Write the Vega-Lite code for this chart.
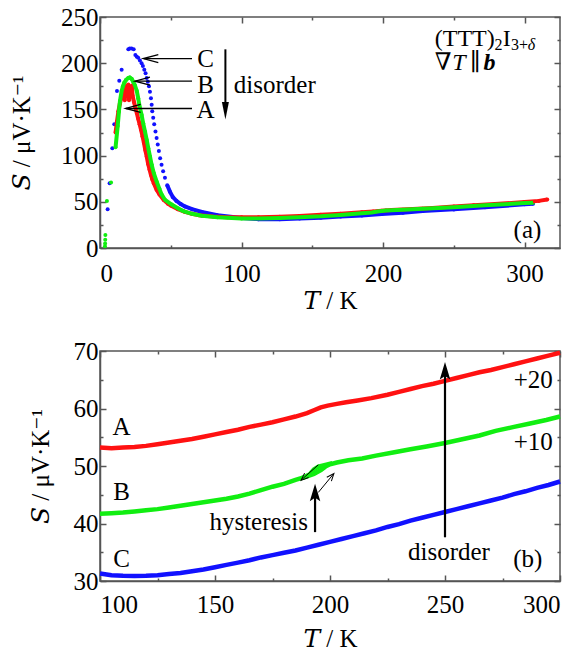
{
  "$schema": "https://vega.github.io/schema/vega-lite/v6.json",
  "padding": {"left": 8, "top": 4, "right": 0, "bottom": 0},
  "spacing": 24,
  "config": {
    "font": "Liberation Serif",
    "view": {"stroke": "#555", "strokeWidth": 1.5},
    "axis": {
      "labelFont": "Liberation Serif", "labelFontSize": 25, "labelColor": "black",
      "titleFont": "Liberation Serif, DejaVu Serif", "titleFontSize": 25, "titleFontWeight": "normal", "titleColor": "black",
      "domainColor": "#555", "domainWidth": 1.5, "tickColor": "#555", "tickWidth": 1.5, "grid": false
    },
    "text": {"font": "Liberation Serif", "fontSize": 25, "color": "black"}
  },
  "resolve": {"scale": {"x": "independent", "y": "independent"}},
  "datasets": {
    "seebeck": [
      {"T":5.4,"S":42,"sample":"C"},{"T":6.8,"S":70,"sample":"C"},{"T":8.7,"S":108,"sample":"C"},{"T":10.1,"S":134,"sample":"C"},
      {"T":12,"S":170,"sample":"C"},{"T":13.6,"S":181,"sample":"C"},{"T":15.3,"S":193,"sample":"C"},{"T":20,"S":215,"sample":"C"},
      {"T":21,"S":216,"sample":"C"},{"T":22.3,"S":216,"sample":"C"},{"T":23.8,"S":215,"sample":"C"},{"T":25,"S":209,"sample":"C"},
      {"T":26,"S":207,"sample":"C"},{"T":27,"S":206,"sample":"C"},{"T":28.2,"S":203,"sample":"C"},{"T":29.4,"S":200,"sample":"C"},
      {"T":30.3,"S":197,"sample":"C"},{"T":31.3,"S":193,"sample":"C"},{"T":32.2,"S":189,"sample":"C"},{"T":33,"S":184,"sample":"C"},
      {"T":33.8,"S":180,"sample":"C"},{"T":34.6,"S":175,"sample":"C"},{"T":35.3,"S":169,"sample":"C"},{"T":36,"S":162,"sample":"C"},
      {"T":36.5,"S":155,"sample":"C"},{"T":36.9,"S":148,"sample":"C"},{"T":37.6,"S":141,"sample":"C"},{"T":38.3,"S":134,"sample":"C"},
      {"T":39.2,"S":126,"sample":"C"},{"T":40,"S":119,"sample":"C"},{"T":40.8,"S":112,"sample":"C"},{"T":41.6,"S":105,"sample":"C"},
      {"T":42.5,"S":97,"sample":"C"},{"T":43.5,"S":90,"sample":"C"},{"T":44.6,"S":83,"sample":"C"},{"T":45.9,"S":76,"sample":"C"},
      {"T":47.5,"S":68,"sample":"C"},{"T":49.4,"S":61,"sample":"C"},{"T":51.5,"S":55,"sample":"C"},{"T":54,"S":51,"sample":"C"},
      {"T":57,"S":47.5,"sample":"C"},{"T":60,"S":45,"sample":"C"},{"T":65,"S":42,"sample":"C"},{"T":72,"S":39,"sample":"C"},
      {"T":83,"S":35.5,"sample":"C"},{"T":100,"S":32.5,"sample":"C"},{"T":112,"S":31.2,"sample":"C"},{"T":127,"S":31,"sample":"C"},
      {"T":141,"S":31.8,"sample":"C"},{"T":156,"S":32.8,"sample":"C"},{"T":170,"S":34.2,"sample":"C"},{"T":185,"S":35.2,"sample":"C"},
      {"T":199,"S":36.7,"sample":"C"},{"T":214,"S":38.2,"sample":"C"},{"T":228,"S":40,"sample":"C"},{"T":250,"S":41.8,"sample":"C"},
      {"T":272,"S":44,"sample":"C"},{"T":300,"S":47.3,"sample":"C"},{"T":306,"S":48,"sample":"C"},

      {"T":11,"S":125,"sample":"A"},{"T":12,"S":137,"sample":"A"},{"T":13,"S":148,"sample":"A"},{"T":14,"S":156,"sample":"A"},
      {"T":15,"S":162,"sample":"A"},{"T":16,"S":166,"sample":"A"},{"T":17,"S":170,"sample":"A"},{"T":17.5,"S":160,"sample":"A"},
      {"T":18,"S":173,"sample":"A"},{"T":18.5,"S":165,"sample":"A"},{"T":19,"S":176,"sample":"A"},{"T":19.5,"S":168,"sample":"A"},
      {"T":20,"S":177,"sample":"A"},{"T":20.5,"S":160,"sample":"A"},{"T":21,"S":174,"sample":"A"},{"T":21.5,"S":165,"sample":"A"},
      {"T":22,"S":170,"sample":"A"},{"T":22.5,"S":176,"sample":"A"},{"T":23,"S":165,"sample":"A"},{"T":24,"S":158,"sample":"A"},
      {"T":25,"S":152,"sample":"A"},{"T":26,"S":146,"sample":"A"},{"T":27,"S":140,"sample":"A"},{"T":28,"S":134,"sample":"A"},
      {"T":29,"S":128,"sample":"A"},{"T":30,"S":121,"sample":"A"},{"T":31,"S":114,"sample":"A"},{"T":32,"S":106,"sample":"A"},
      {"T":33,"S":99,"sample":"A"},{"T":34,"S":91,"sample":"A"},{"T":35,"S":85,"sample":"A"},{"T":36,"S":79,"sample":"A"},
      {"T":37,"S":74,"sample":"A"},{"T":38,"S":70,"sample":"A"},{"T":40,"S":63,"sample":"A"},{"T":42,"S":58,"sample":"A"},
      {"T":45,"S":52,"sample":"A"},{"T":48,"S":48,"sample":"A"},{"T":50,"S":46,"sample":"A"},{"T":55,"S":42,"sample":"A"},
      {"T":60,"S":39,"sample":"A"},{"T":65,"S":37,"sample":"A"},{"T":70,"S":35.5,"sample":"A"},{"T":80,"S":34,"sample":"A"},
      {"T":90,"S":33.4,"sample":"A"},{"T":100,"S":33.2,"sample":"A"},{"T":112,"S":33.3,"sample":"A"},{"T":127,"S":33.9,"sample":"A"},
      {"T":141,"S":34.7,"sample":"A"},{"T":156,"S":35.9,"sample":"A"},{"T":170,"S":37.2,"sample":"A"},{"T":185,"S":38.6,"sample":"A"},
      {"T":193,"S":39.6,"sample":"A"},{"T":199,"S":40.4,"sample":"A"},{"T":206,"S":41.1,"sample":"A"},{"T":221,"S":42.1,"sample":"A"},
      {"T":235,"S":43.4,"sample":"A"},{"T":250,"S":44.8,"sample":"A"},{"T":264,"S":46.2,"sample":"A"},{"T":279,"S":47.6,"sample":"A"},
      {"T":300,"S":49.7,"sample":"A"},{"T":310,"S":51,"sample":"A"},{"T":316,"S":52.4,"sample":"A"},

      {"T":3.5,"S":2,"sample":"B"},{"T":3.6,"S":5,"sample":"B"},{"T":3.7,"S":9,"sample":"B"},{"T":3.8,"S":14,"sample":"B"},
      {"T":4.9,"S":51,"sample":"B"},{"T":7.8,"S":71,"sample":"B"},{"T":11,"S":109,"sample":"B"},{"T":12.5,"S":132,"sample":"B"},
      {"T":13.4,"S":148,"sample":"B"},{"T":14.1,"S":159,"sample":"B"},{"T":15.3,"S":170,"sample":"B"},{"T":16.2,"S":175,"sample":"B"},
      {"T":17.2,"S":179,"sample":"B"},{"T":18.5,"S":182,"sample":"B"},{"T":20,"S":184,"sample":"B"},{"T":21,"S":184.5,"sample":"B"},
      {"T":22.4,"S":183,"sample":"B"},{"T":23.5,"S":180,"sample":"B"},{"T":24.7,"S":176,"sample":"B"},{"T":26,"S":170,"sample":"B"},
      {"T":27,"S":162,"sample":"B"},{"T":28,"S":153,"sample":"B"},{"T":29.4,"S":144,"sample":"B"},{"T":30.5,"S":135,"sample":"B"},
      {"T":31.8,"S":126,"sample":"B"},{"T":33,"S":117,"sample":"B"},{"T":34.1,"S":108,"sample":"B"},{"T":35.3,"S":99,"sample":"B"},
      {"T":36.5,"S":90,"sample":"B"},{"T":38,"S":81,"sample":"B"},{"T":40,"S":72,"sample":"B"},{"T":42,"S":64,"sample":"B"},
      {"T":43.5,"S":58,"sample":"B"},{"T":46,"S":52,"sample":"B"},{"T":50.6,"S":47,"sample":"B"},{"T":55,"S":43,"sample":"B"},
      {"T":58.8,"S":40,"sample":"B"},{"T":65,"S":37,"sample":"B"},{"T":72,"S":35,"sample":"B"},{"T":83,"S":33.3,"sample":"B"},
      {"T":100,"S":32,"sample":"B"},{"T":112,"S":32,"sample":"B"},{"T":127,"S":32.6,"sample":"B"},{"T":141,"S":33.4,"sample":"B"},
      {"T":156,"S":34.3,"sample":"B"},{"T":170,"S":35.8,"sample":"B"},{"T":185,"S":37.6,"sample":"B"},{"T":192,"S":38.4,"sample":"B"},
      {"T":196,"S":39.4,"sample":"B"},{"T":202,"S":40.6,"sample":"B"},{"T":214,"S":41.3,"sample":"B"},{"T":228,"S":42.4,"sample":"B"},
      {"T":250,"S":44,"sample":"B"},{"T":272,"S":46.2,"sample":"B"},{"T":300,"S":48.6,"sample":"B"},{"T":306,"S":49,"sample":"B"}
    ],
    "shifted": [
      {"T":100,"S":53.2,"sample":"A","branch":"A"},{"T":105,"S":53.1,"sample":"A","branch":"A"},{"T":110,"S":53.2,"sample":"A","branch":"A"},
      {"T":115,"S":53.3,"sample":"A","branch":"A"},{"T":120,"S":53.5,"sample":"A","branch":"A"},{"T":125,"S":53.8,"sample":"A","branch":"A"},
      {"T":130,"S":54.1,"sample":"A","branch":"A"},{"T":135,"S":54.4,"sample":"A","branch":"A"},{"T":140,"S":54.7,"sample":"A","branch":"A"},
      {"T":145,"S":55.1,"sample":"A","branch":"A"},{"T":150,"S":55.5,"sample":"A","branch":"A"},{"T":155,"S":55.9,"sample":"A","branch":"A"},
      {"T":160,"S":56.3,"sample":"A","branch":"A"},{"T":165,"S":56.8,"sample":"A","branch":"A"},{"T":170,"S":57.2,"sample":"A","branch":"A"},
      {"T":175,"S":57.6,"sample":"A","branch":"A"},{"T":180,"S":58.1,"sample":"A","branch":"A"},{"T":185,"S":58.6,"sample":"A","branch":"A"},
      {"T":190,"S":59.2,"sample":"A","branch":"A"},{"T":193,"S":59.7,"sample":"A","branch":"A"},{"T":196,"S":60.2,"sample":"A","branch":"A"},
      {"T":199,"S":60.5,"sample":"A","branch":"A"},{"T":203,"S":60.8,"sample":"A","branch":"A"},{"T":207,"S":61.1,"sample":"A","branch":"A"},
      {"T":212,"S":61.4,"sample":"A","branch":"A"},{"T":218,"S":61.8,"sample":"A","branch":"A"},{"T":225,"S":62.4,"sample":"A","branch":"A"},
      {"T":230,"S":62.9,"sample":"A","branch":"A"},{"T":235,"S":63.4,"sample":"A","branch":"A"},{"T":240,"S":63.9,"sample":"A","branch":"A"},
      {"T":245,"S":64.3,"sample":"A","branch":"A"},{"T":250,"S":64.8,"sample":"A","branch":"A"},{"T":255,"S":65.3,"sample":"A","branch":"A"},
      {"T":260,"S":65.8,"sample":"A","branch":"A"},{"T":265,"S":66.3,"sample":"A","branch":"A"},{"T":270,"S":66.7,"sample":"A","branch":"A"},
      {"T":275,"S":67.2,"sample":"A","branch":"A"},{"T":280,"S":67.7,"sample":"A","branch":"A"},{"T":285,"S":68.2,"sample":"A","branch":"A"},
      {"T":290,"S":68.7,"sample":"A","branch":"A"},{"T":295,"S":69.2,"sample":"A","branch":"A"},{"T":300,"S":69.7,"sample":"A","branch":"A"},

      {"T":100,"S":41.7,"sample":"B","branch":"B"},{"T":105,"S":41.8,"sample":"B","branch":"B"},{"T":110,"S":41.9,"sample":"B","branch":"B"},
      {"T":115,"S":42.1,"sample":"B","branch":"B"},{"T":120,"S":42.3,"sample":"B","branch":"B"},{"T":125,"S":42.5,"sample":"B","branch":"B"},
      {"T":130,"S":42.8,"sample":"B","branch":"B"},{"T":135,"S":43.1,"sample":"B","branch":"B"},{"T":140,"S":43.4,"sample":"B","branch":"B"},
      {"T":145,"S":43.7,"sample":"B","branch":"B"},{"T":150,"S":44.0,"sample":"B","branch":"B"},{"T":155,"S":44.3,"sample":"B","branch":"B"},
      {"T":160,"S":44.7,"sample":"B","branch":"B"},{"T":165,"S":45.2,"sample":"B","branch":"B"},{"T":170,"S":45.8,"sample":"B","branch":"B"},
      {"T":175,"S":46.4,"sample":"B","branch":"B"},{"T":180,"S":46.9,"sample":"B","branch":"B"},{"T":185,"S":47.6,"sample":"B","branch":"B"},
      {"T":190,"S":48.2,"sample":"B","branch":"B"},{"T":193,"S":48.6,"sample":"B","branch":"B"},{"T":196,"S":49.3,"sample":"B","branch":"B"},
      {"T":198,"S":49.9,"sample":"B","branch":"B"},{"T":200,"S":50.3,"sample":"B","branch":"B"},{"T":203,"S":50.6,"sample":"B","branch":"B"},
      {"T":208,"S":51.0,"sample":"B","branch":"B"},{"T":214,"S":51.3,"sample":"B","branch":"B"},{"T":220,"S":51.8,"sample":"B","branch":"B"},
      {"T":228,"S":52.4,"sample":"B","branch":"B"},{"T":235,"S":52.9,"sample":"B","branch":"B"},{"T":242,"S":53.4,"sample":"B","branch":"B"},
      {"T":250,"S":54.0,"sample":"B","branch":"B"},{"T":257,"S":54.6,"sample":"B","branch":"B"},{"T":265,"S":55.3,"sample":"B","branch":"B"},
      {"T":272,"S":56.1,"sample":"B","branch":"B"},{"T":280,"S":56.8,"sample":"B","branch":"B"},{"T":287,"S":57.4,"sample":"B","branch":"B"},
      {"T":294,"S":58.0,"sample":"B","branch":"B"},{"T":300,"S":58.6,"sample":"B","branch":"B"},
      {"T":188,"S":47.9,"sample":"B","branch":"B cooling"},{"T":191,"S":48.5,"sample":"B","branch":"B cooling"},
      {"T":193,"S":49.4,"sample":"B","branch":"B cooling"},{"T":195,"S":49.9,"sample":"B","branch":"B cooling"},
      {"T":198,"S":50.2,"sample":"B","branch":"B cooling"},{"T":201,"S":50.5,"sample":"B","branch":"B cooling"},

      {"T":100,"S":31.3,"sample":"C","branch":"C"},{"T":105,"S":31.0,"sample":"C","branch":"C"},{"T":110,"S":30.9,"sample":"C","branch":"C"},
      {"T":115,"S":30.85,"sample":"C","branch":"C"},{"T":120,"S":30.9,"sample":"C","branch":"C"},{"T":125,"S":31.0,"sample":"C","branch":"C"},
      {"T":130,"S":31.2,"sample":"C","branch":"C"},{"T":135,"S":31.4,"sample":"C","branch":"C"},{"T":140,"S":31.7,"sample":"C","branch":"C"},
      {"T":145,"S":32.0,"sample":"C","branch":"C"},{"T":150,"S":32.4,"sample":"C","branch":"C"},{"T":155,"S":32.8,"sample":"C","branch":"C"},
      {"T":160,"S":33.2,"sample":"C","branch":"C"},{"T":165,"S":33.6,"sample":"C","branch":"C"},{"T":170,"S":34.1,"sample":"C","branch":"C"},
      {"T":175,"S":34.5,"sample":"C","branch":"C"},{"T":180,"S":34.9,"sample":"C","branch":"C"},{"T":185,"S":35.3,"sample":"C","branch":"C"},
      {"T":190,"S":35.8,"sample":"C","branch":"C"},{"T":195,"S":36.3,"sample":"C","branch":"C"},{"T":200,"S":36.8,"sample":"C","branch":"C"},
      {"T":205,"S":37.3,"sample":"C","branch":"C"},{"T":210,"S":37.8,"sample":"C","branch":"C"},{"T":215,"S":38.3,"sample":"C","branch":"C"},
      {"T":220,"S":38.8,"sample":"C","branch":"C"},{"T":225,"S":39.4,"sample":"C","branch":"C"},{"T":230,"S":39.9,"sample":"C","branch":"C"},
      {"T":235,"S":40.5,"sample":"C","branch":"C"},{"T":240,"S":41.0,"sample":"C","branch":"C"},{"T":245,"S":41.5,"sample":"C","branch":"C"},
      {"T":250,"S":42.0,"sample":"C","branch":"C"},{"T":255,"S":42.5,"sample":"C","branch":"C"},{"T":260,"S":43.0,"sample":"C","branch":"C"},
      {"T":265,"S":43.5,"sample":"C","branch":"C"},{"T":270,"S":44.0,"sample":"C","branch":"C"},{"T":275,"S":44.5,"sample":"C","branch":"C"},
      {"T":280,"S":45.1,"sample":"C","branch":"C"},{"T":285,"S":45.6,"sample":"C","branch":"C"},{"T":290,"S":46.2,"sample":"C","branch":"C"},
      {"T":295,"S":46.7,"sample":"C","branch":"C"},{"T":300,"S":47.3,"sample":"C","branch":"C"}
    ]
  },
  "vconcat": [
    {
      "width": 460,
      "height": 231,
      "resolve": {"axis": {"x": "independent", "y": "independent"}},
      "layer": [
        {
          "data": {"name": "seebeck"},
          "mark": {"type": "circle", "size": 16, "opacity": 1},
          "encoding": {
            "x": {"field": "T", "type": "quantitative", "scale": {"domain": [0, 325], "nice": false, "zero": false},
                  "axis": {"orient": "bottom", "values": [0, 100, 200, 300], "tickSize": -6, "labelPadding": 19, "labelFont": "Liberation Serif", "title": "𝑇 / K", "titlePadding": 2}},
            "y": {"field": "S", "type": "quantitative", "scale": {"domain": [0, 250], "nice": false},
                  "axis": {"orient": "left", "values": [0, 50, 100, 150, 200, 250], "tickSize": -6, "labelPadding": 8, "labelFont": "Liberation Serif", "title": "𝑆 / μV·K⁻¹", "titlePadding": 26}},
            "color": {"field": "sample", "type": "nominal", "scale": {"domain": ["A", "B", "C"], "range": ["#ff1111", "#11ee11", "#1111ff"]}, "legend": null}
          }
        },
        {
          "data": {"name": "seebeck"},
          "transform": [{"filter": "(datum.sample != 'C' && datum.T >= 11) || datum.T >= 47"}],
          "mark": {"type": "line", "strokeWidth": 4},
          "encoding": {
            "x": {"field": "T", "type": "quantitative", "axis": null},
            "y": {"field": "S", "type": "quantitative", "axis": null},
            "color": {"field": "sample", "type": "nominal", "legend": null}
          }
        },
        {
          "data": {"values": [
            {"T": 74.6, "S": 205, "label": "C"},
            {"T": 74.6, "S": 176.5, "label": "B"},
            {"T": 74.6, "S": 149, "label": "A"},
            {"T": 123.5, "S": 176.5, "label": "disorder"},
            {"T": 302, "S": 20, "label": "(a)"}
          ]},
          "mark": {"type": "text", "align": "center", "baseline": "middle", "font": "Liberation Serif"},
          "encoding": {
            "x": {"field": "T", "type": "quantitative",
                  "axis": {"orient": "top", "values": [0, 100, 200, 300], "tickSize": -6, "labels": false, "title": null, "domain": false, "minExtent": 0}},
            "y": {"field": "S", "type": "quantitative",
                  "axis": {"orient": "right", "values": [0, 50, 100, 150, 200, 250], "tickSize": -6, "labels": false, "title": null, "domain": false, "minExtent": 0}},
            "text": {"field": "label"}
          }
        },
        {
          "data": {"values": [
            {"T": 65, "S": 205, "T2": 31, "S2": 205},
            {"T": 65, "S": 180.5, "T2": 25, "S2": 180.5},
            {"T": 65, "S": 151, "T2": 18.5, "S2": 151}
          ]},
          "mark": {"type": "rule", "color": "black", "strokeWidth": 1.3},
          "encoding": {
            "x": {"field": "T", "type": "quantitative",
                  "axis": {"orient": "bottom", "values": [50, 150, 250], "tickSize": -3, "labels": false, "title": null, "domain": false, "minExtent": 0}},
            "x2": {"field": "T2"},
            "y": {"field": "S", "type": "quantitative",
                  "axis": {"orient": "left", "values": [25, 75, 125, 175, 225], "tickSize": -3, "labels": false, "title": null, "domain": false, "minExtent": 0}},
            "y2": {"field": "S2"}
          }
        },
        {
          "data": {"values": [
            {"T": 30.6, "S": 205},
            {"T": 24.7, "S": 180.5},
            {"T": 18.1, "S": 151}
          ]},
          "mark": {"type": "point", "shape": "M3,-0.8L0,0L3,0.8", "size": 100, "filled": false, "stroke": "black", "strokeWidth": 1.3, "opacity": 1},
          "encoding": {
            "x": {"field": "T", "type": "quantitative",
                  "axis": {"orient": "top", "values": [50, 150, 250], "tickSize": -3, "labels": false, "title": null, "domain": false, "minExtent": 0}},
            "y": {"field": "S", "type": "quantitative",
                  "axis": {"orient": "right", "values": [25, 75, 125, 175, 225], "tickSize": -3, "labels": false, "title": null, "domain": false, "minExtent": 0}}
          }
        },
        {
          "data": {"values": [{"T": 88.6, "S": 215, "S2": 150}]},
          "mark": {"type": "rule", "color": "black", "strokeWidth": 2},
          "encoding": {
            "x": {"field": "T", "type": "quantitative", "axis": null},
            "y": {"field": "S", "type": "quantitative", "axis": null},
            "y2": {"field": "S2"}
          }
        },
        {
          "data": {"values": [{"T": 88.6, "S": 139}]},
          "mark": {"type": "point", "shape": "M0,0L-1,-5L1,-5Z", "size": 49, "filled": true, "color": "black", "opacity": 1},
          "encoding": {
            "x": {"field": "T", "type": "quantitative", "axis": null},
            "y": {"field": "S", "type": "quantitative", "axis": null}
          }
        },
        {
          "data": {"values": [
            {"T": 236.5, "S": 219, "label": "(TTT)"},
            {"T": 284.5, "S": 219, "label": "I"},
            {"T": 236.5, "S": 193, "label": "∇"},
            {"T": 261.5, "S": 193, "label": "∥"}
          ]},
          "mark": {"type": "text", "align": "left", "baseline": "alphabetic", "fontSize": 24, "font": "Liberation Serif, DejaVu Serif"},
          "encoding": {
            "x": {"field": "T", "type": "quantitative", "axis": null},
            "y": {"field": "S", "type": "quantitative", "axis": null},
            "text": {"field": "label"}
          }
        },
        {
          "data": {"values": [
            {"T": 278.8, "S": 214.5, "label": "2"},
            {"T": 290.3, "S": 214.5, "label": "3+"}
          ]},
          "mark": {"type": "text", "align": "left", "baseline": "alphabetic", "fontSize": 16, "font": "Liberation Serif"},
          "encoding": {
            "x": {"field": "T", "type": "quantitative", "axis": null},
            "y": {"field": "S", "type": "quantitative", "axis": null},
            "text": {"field": "label"}
          }
        },
        {
          "data": {"values": [{"T": 302.3, "S": 214.5, "label": "δ"}]},
          "mark": {"type": "text", "align": "left", "baseline": "alphabetic", "fontSize": 16, "fontStyle": "italic", "font": "Liberation Serif"},
          "encoding": {
            "x": {"field": "T", "type": "quantitative", "axis": null},
            "y": {"field": "S", "type": "quantitative", "axis": null},
            "text": {"field": "label"}
          }
        },
        {
          "data": {"values": [{"T": 248.8, "S": 193, "label": "T"}]},
          "mark": {"type": "text", "align": "left", "baseline": "alphabetic", "fontSize": 24, "fontStyle": "italic", "font": "Liberation Serif"},
          "encoding": {
            "x": {"field": "T", "type": "quantitative", "axis": null},
            "y": {"field": "S", "type": "quantitative", "axis": null},
            "text": {"field": "label"}
          }
        },
        {
          "data": {"values": [{"T": 271, "S": 193, "label": "b"}]},
          "mark": {"type": "text", "align": "left", "baseline": "alphabetic", "fontSize": 24, "fontStyle": "italic", "fontWeight": "bold", "font": "Liberation Serif"},
          "encoding": {
            "x": {"field": "T", "type": "quantitative", "axis": null},
            "y": {"field": "S", "type": "quantitative", "axis": null},
            "text": {"field": "label"}
          }
        }
      ]
    },
    {
      "width": 460,
      "height": 230,
      "resolve": {"axis": {"x": "independent", "y": "independent"}},
      "layer": [
        {
          "data": {"name": "shifted"},
          "mark": {"type": "line", "strokeWidth": 4.5},
          "encoding": {
            "x": {"field": "T", "type": "quantitative", "scale": {"domain": [100, 300], "nice": false, "zero": false},
                  "axis": {"orient": "bottom", "values": [100, 150, 200, 250, 300], "tickSize": -6, "labelPadding": 17, "labelFont": "Liberation Serif", "title": "𝑇 / K", "titlePadding": 9}},
            "y": {"field": "S", "type": "quantitative", "scale": {"domain": [30, 70], "nice": false, "zero": false},
                  "axis": {"orient": "left", "values": [30, 40, 50, 60, 70], "tickSize": -6, "labelPadding": 8, "labelFont": "Liberation Serif", "title": "𝑆 / μV·K⁻¹", "titlePadding": 20}},
            "color": {"field": "sample", "type": "nominal", "legend": null},
            "detail": {"field": "branch"}
          }
        },
        {
          "data": {"values": [
            {"T": 109.4, "S": 56.8, "label": "A"},
            {"T": 109.4, "S": 45.5, "label": "B"},
            {"T": 109.4, "S": 33.9, "label": "C"},
            {"T": 288.4, "S": 64.9, "label": "+20"},
            {"T": 288.4, "S": 54.2, "label": "+10"},
            {"T": 169, "S": 40.3, "label": "hysteresis"},
            {"T": 251.7, "S": 35, "label": "disorder"},
            {"T": 286, "S": 33.9, "label": "(b)"}
          ]},
          "mark": {"type": "text", "align": "center", "baseline": "middle", "font": "Liberation Serif"},
          "encoding": {
            "x": {"field": "T", "type": "quantitative",
                  "axis": {"orient": "top", "values": [100, 150, 200, 250, 300], "tickSize": -6, "labels": false, "title": null, "domain": false, "minExtent": 0}},
            "y": {"field": "S", "type": "quantitative",
                  "axis": {"orient": "right", "values": [30, 40, 50, 60, 70], "tickSize": -6, "labels": false, "title": null, "domain": false, "minExtent": 0}},
            "text": {"field": "label"}
          }
        },
        {
          "data": {"values": [
            {"T": 250, "S": 37.6, "S2": 66.5},
            {"T": 193.5, "S": 38.5, "S2": 45.5}
          ]},
          "mark": {"type": "rule", "color": "black", "strokeWidth": 2.2},
          "encoding": {
            "x": {"field": "T", "type": "quantitative",
                  "axis": {"orient": "bottom", "values": [125, 175, 225, 275], "tickSize": -3, "labels": false, "title": null, "domain": false, "minExtent": 0}},
            "y": {"field": "S", "type": "quantitative",
                  "axis": {"orient": "left", "values": [35, 45, 55, 65], "tickSize": -3, "labels": false, "title": null, "domain": false, "minExtent": 0}},
            "y2": {"field": "S2"}
          }
        },
        {
          "data": {"values": [
            {"T": 250, "S": 68.1},
            {"T": 193.5, "S": 46.9}
          ]},
          "mark": {"type": "point", "shape": "M0,0L-1.5,5L0,4L1.5,5Z", "size": 49, "filled": true, "color": "black", "opacity": 1},
          "encoding": {
            "x": {"field": "T", "type": "quantitative",
                  "axis": {"orient": "top", "values": [125, 175, 225, 275], "tickSize": -3, "labels": false, "title": null, "domain": false, "minExtent": 0}},
            "y": {"field": "S", "type": "quantitative",
                  "axis": {"orient": "right", "values": [35, 45, 55, 65], "tickSize": -3, "labels": false, "title": null, "domain": false, "minExtent": 0}}
          }
        },
        {
          "data": {"values": [
            {"T": 194.9, "S": 50.2, "T2": 187.6, "S2": 47.6},
            {"T": 194.9, "S": 45.4, "T2": 201.5, "S2": 48.6}
          ]},
          "mark": {"type": "rule", "color": "black", "strokeWidth": 1},
          "encoding": {
            "x": {"field": "T", "type": "quantitative", "axis": null},
            "x2": {"field": "T2"},
            "y": {"field": "S", "type": "quantitative", "axis": null},
            "y2": {"field": "S2"}
          }
        },
        {
          "data": {"values": [{"T": 187.4, "S": 47.5}]},
          "mark": {"type": "point", "shape": "M3,-1.2L0,0L3,1.2", "size": 25, "filled": false, "stroke": "black", "strokeWidth": 1, "opacity": 1, "angle": -42},
          "encoding": {
            "x": {"field": "T", "type": "quantitative", "axis": null},
            "y": {"field": "S", "type": "quantitative", "axis": null}
          }
        },
        {
          "data": {"values": [{"T": 201.7, "S": 48.7}]},
          "mark": {"type": "point", "shape": "M3,-1.2L0,0L3,1.2", "size": 25, "filled": false, "stroke": "black", "strokeWidth": 1, "opacity": 1, "angle": 130},
          "encoding": {
            "x": {"field": "T", "type": "quantitative", "axis": null},
            "y": {"field": "S", "type": "quantitative", "axis": null}
          }
        }
      ]
    }
  ]
}
